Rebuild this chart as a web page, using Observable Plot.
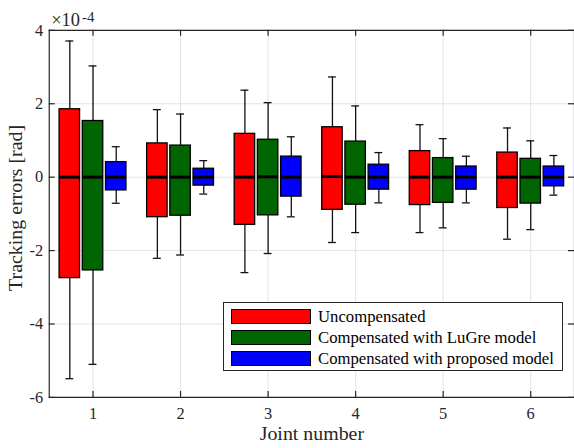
<!DOCTYPE html>
<html><head><meta charset="utf-8">
<script src="https://cdn.jsdelivr.net/npm/d3@7"></script>
<script src="https://cdn.jsdelivr.net/npm/@observablehq/plot@0.6"></script>
<style>
html,body{margin:0;padding:0;background:#fff;overflow:hidden;}
#wrap{position:relative;width:574px;height:448px;overflow:hidden;font-family:"Liberation Serif","Times New Roman",serif;}
#legend{position:absolute;left:223px;top:302px;width:340px;height:69px;border:1px solid #262626;background:#fff;box-sizing:border-box;}
.row{position:absolute;left:7px;height:15px;display:flex;align-items:center;}
.sw{width:80px;height:15px;border:1px solid #000;box-sizing:border-box;}
.lab{margin-left:7px;font-size:16.7px;color:#000;white-space:nowrap;line-height:15px;}
</style></head>
<body><div id="wrap"></div>
<script>
// Values are in units of 1e-4 rad
const joints = [1, 2, 3, 4, 5, 6];
const groups = ["Uncompensated", "Compensated with LuGre model", "Compensated with proposed model"];
const groupColors = ["#ff0000", "#006400", "#0000ff"];
const yTicks = [-6, -4, -2, 0, 2, 4];

const uncompHigh = [3.71, 1.84, 2.37, 2.73, 1.43, 1.34];
const uncompQ3   = [1.85, 0.92, 1.18, 1.36, 0.71, 0.67];
const uncompMed  = [0.00, 0.00, 0.00, 0.02, 0.00, 0.00];
const uncompQ1   = [-2.75, -1.09, -1.30, -0.89, -0.76, -0.84];
const uncompLow  = [-5.49, -2.21, -2.60, -1.78, -1.51, -1.69];

const lugreHigh = [3.03, 1.72, 2.03, 1.94, 1.05, 0.99];
const lugreQ3   = [1.53, 0.86, 1.02, 0.97, 0.52, 0.50];
const lugreMed  = [0.00, 0.00, 0.01, 0.00, 0.00, 0.00];
const lugreQ1   = [-2.54, -1.05, -1.04, -0.75, -0.70, -0.72];
const lugreLow  = [-5.10, -2.12, -2.08, -1.51, -1.38, -1.43];

const propHigh = [0.83, 0.45, 1.10, 0.67, 0.57, 0.59];
const propQ3   = [0.41, 0.23, 0.56, 0.34, 0.29, 0.29];
const propMed  = [0.00, 0.00, 0.00, 0.00, 0.00, 0.00];
const propQ1   = [-0.36, -0.23, -0.53, -0.34, -0.34, -0.25];
const propLow  = [-0.71, -0.46, -1.08, -0.70, -0.70, -0.49];

const stats = [
  [uncompLow, uncompQ1, uncompMed, uncompQ3, uncompHigh],
  [lugreLow, lugreQ1, lugreMed, lugreQ3, lugreHigh],
  [propLow, propQ1, propMed, propQ3, propHigh]
];

const offsets = [-0.265, 0, 0.265];
const boxHalf = 0.117;
const capHalf = 0.045;

const byGroup = stats.map((s, gi) => joints.map((j, ji) => ({
  joint: j, group: groups[gi], pos: j + offsets[gi],
  low: s[0][ji], q1: s[1][ji], med: s[2][ji], q3: s[3][ji], high: s[4][ji]
})));
const all = byGroup.flat();

const W = 577, H = 448, mL = 49, mR = 0, mT = 30, mB = 49;
const fw = W - mL - mR, fh = H - mT - mB, tk = 6;
const axisColor = "#262626";

const marks = [
  Plot.gridY(yTicks, {stroke: "#e3e3e3", strokeOpacity: 1, strokeWidth: 1}),
  Plot.gridX(joints, {stroke: "#e3e3e3", strokeOpacity: 1, strokeWidth: 1}),
  Plot.ruleX(all, {x: "pos", y1: "q3", y2: "high", stroke: "#111", strokeWidth: 1.3}),
  Plot.ruleX(all, {x: "pos", y1: "low", y2: "q1", stroke: "#111", strokeWidth: 1.3}),
  Plot.ruleY(all, {y: "high", x1: d => d.pos - capHalf, x2: d => d.pos + capHalf, stroke: "#111", strokeWidth: 1.3}),
  Plot.ruleY(all, {y: "low", x1: d => d.pos - capHalf, x2: d => d.pos + capHalf, stroke: "#111", strokeWidth: 1.3})
];
byGroup.forEach((rows, gi) => {
  marks.push(Plot.rect(rows, {x1: d => d.pos - boxHalf, x2: d => d.pos + boxHalf, y1: "q1", y2: "q3",
    fill: groupColors[gi], stroke: "#000", strokeWidth: 1.3}));
});
marks.push(
  Plot.ruleY(all, {y: "med", x1: d => d.pos - boxHalf, x2: d => d.pos + boxHalf, stroke: "#000", strokeWidth: 3}),
  // axes box (top, left, bottom; right lies just outside view)
  Plot.ruleY([4], {stroke: axisColor, strokeWidth: 1.2}),
  Plot.ruleY([-6], {stroke: axisColor, strokeWidth: 1.2}),
  Plot.ruleX([0.5], {stroke: axisColor, strokeWidth: 1.2}),
  Plot.ruleX([6.5], {stroke: axisColor, strokeWidth: 1.2}),
  // inward ticks
  Plot.tickY(yTicks, {y: d => d, insetRight: fw - tk, stroke: axisColor, strokeWidth: 1.2}),
  Plot.tickY(yTicks, {y: d => d, insetLeft: fw - tk, stroke: axisColor, strokeWidth: 1.2}),
  Plot.tickX(joints, {x: d => d, insetTop: fh - tk, stroke: axisColor, strokeWidth: 1.2}),
  Plot.tickX(joints, {x: d => d, insetBottom: fh - tk, stroke: axisColor, strokeWidth: 1.2}),
  Plot.axisX({ticks: joints, tickSize: 0, tickPadding: 10, tickFormat: d => String(d), label: null, fill: axisColor}),
  Plot.axisY({ticks: yTicks, tickSize: 0, tickPadding: 6, tickFormat: d => String(d), label: null, fill: axisColor}),
  Plot.text(["Joint number"], {frameAnchor: "bottom", textAnchor: "middle", lineAnchor: "bottom", dy: 43, fontSize: 20, fill: axisColor}),
  Plot.text(["Tracking errors [rad]"], {frameAnchor: "left", textAnchor: "middle", lineAnchor: "bottom", rotate: -90, dx: -27, dy: -6, fontSize: 20, fill: axisColor}),
  Plot.text(["\u00d710"], {frameAnchor: "top-left", textAnchor: "start", lineAnchor: "bottom", dx: 2, dy: -4, fontSize: 18.5, fill: axisColor}),
  Plot.text(["-4"], {frameAnchor: "top-left", textAnchor: "start", lineAnchor: "bottom", dx: 33, dy: -8, fontSize: 15, fill: axisColor})
);

const chart = Plot.plot({
  width: W, height: H,
  marginLeft: mL, marginRight: mR, marginTop: mT, marginBottom: mB,
  style: {fontFamily: '"Liberation Serif", "Times New Roman", serif', fontSize: "16.5px", background: "#fff", color: axisColor, overflow: "visible"},
  x: {domain: [0.5, 6.5]},
  y: {domain: [-6, 4]},
  marks
});

const wrap = document.getElementById("wrap");
wrap.appendChild(chart);

const legend = document.createElement("div");
legend.id = "legend";
groups.forEach((g, gi) => {
  const row = document.createElement("div");
  row.className = "row";
  row.style.top = (6 + gi * 21) + "px";
  const sw = document.createElement("div");
  sw.className = "sw";
  sw.style.background = groupColors[gi];
  const lab = document.createElement("span");
  lab.className = "lab";
  lab.textContent = g;
  row.appendChild(sw);
  row.appendChild(lab);
  legend.appendChild(row);
});
wrap.appendChild(legend);
</script>
</body></html>
